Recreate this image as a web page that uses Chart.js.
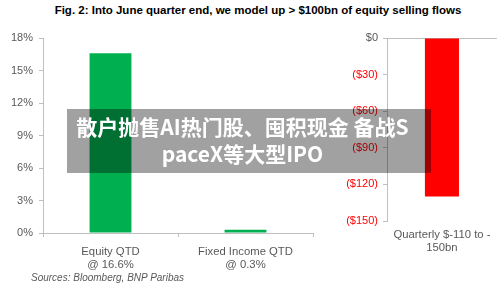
<!DOCTYPE html>
<html>
<head>
<meta charset="utf-8">
<script src="https://cdn.jsdelivr.net/npm/chart.js@4"></script>
<style>
  body { margin: 0; background: #fff; width: 500px; height: 283px; overflow: hidden; position: relative; font-family: "Liberation Sans", Arial, sans-serif; }
  canvas { position: absolute; top: 0; }
  #title { position: absolute; top: 4px; left: 0; width: 516px; text-align: center; font-weight: bold; font-size: 11.5px; color: #000; }
  #sources { position: absolute; top: 272px; left: 31px; font-style: italic; font-size: 10px; color: #595959; }
  #banner { position: absolute; left: 67px; top: 109px; width: 364px; height: 64px; background: rgba(0,0,0,0.37);
    color: #fff; font-family: "Noto Sans CJK SC", sans-serif; font-weight: bold; font-size: 21px; line-height: 27px;
    text-align: center; box-sizing: border-box; padding-top: 4px; padding-right: 13px; white-space: nowrap; }
</style>
</head>
<body>
<div id="title">Fig. 2: Into June quarter end, we model up &gt; $100bn of equity selling flows</div>
<canvas id="leftChart" width="320" height="283" style="left:0"></canvas>
<canvas id="rightChart" width="180" height="283" style="left:320px"></canvas>
<div id="sources">Sources: Bloomberg, BNP Paribas</div>
<div id="banner">散户抛售AI热门股、囤积现金 备战S<br>paceX等大型IPO</div>
<script>
// chart values
const leftCategories = [['Equity QTD', '@ 16.6%'], ['Fixed Income QTD', '@ 0.3%']];
const leftValues = [16.6, 0.3];
const leftTickMin = 0;
const leftTickMax = 18;
const leftTickStep = 3;

const rightCategories = [['Quarterly $-110 to -', '150bn']];
const rightValues = [-130];
const rightTickMin = -150;
const rightTickMax = 0;
const rightTickStep = 30;

const _GREEN = '#00b050';
const _RED = '#ff0000';
const _GREY = '#595959';
const _AXIS = '#bfbfbf';

Chart.defaults.font.family = '"Liberation Sans", Arial, sans-serif';
Chart.defaults.font.size = 11;
Chart.defaults.color = _GREY;

let leftCtx = document.getElementById('leftChart').getContext('2d');
let leftChart = new Chart(leftCtx, {
    type: 'bar',
    data: {
        labels: leftCategories,
        datasets: [{
            data: leftValues,
            backgroundColor: _GREEN,
            barPercentage: 0.31,
            categoryPercentage: 1
        }]
    },
    options: {
        responsive: false,
        animation: false,
        devicePixelRatio: 1,
        layout: { padding: { top: 38, right: 7, bottom: 0, left: 0 } },
        plugins: { legend: { display: false }, tooltip: { enabled: false } },
        scales: {
            x: {
                afterFit: function (scale) { scale.height = 50; },
                border: { color: _AXIS },
                grid: { drawOnChartArea: false, color: _AXIS, tickLength: 4 },
                ticks: { padding: 8, color: _GREY, maxRotation: 0, font: { size: 11.3, lineHeight: 1.15 } }
            },
            y: {
                min: leftTickMin,
                max: leftTickMax,
                afterFit: function (scale) { scale.width = 43; },
                border: { color: _AXIS },
                grid: { drawOnChartArea: false, color: _AXIS, tickLength: 4 },
                ticks: {
                    stepSize: leftTickStep,
                    padding: 6,
                    color: _GREY,
                    callback: function (v) { return v + '%'; }
                }
            }
        }
    }
});

let rightCtx = document.getElementById('rightChart').getContext('2d');
let rightChart = new Chart(rightCtx, {
    type: 'bar',
    data: {
        labels: rightCategories,
        datasets: [{
            data: rightValues,
            backgroundColor: _RED,
            barPercentage: 0.31,
            categoryPercentage: 1
        }]
    },
    options: {
        responsive: false,
        animation: false,
        devicePixelRatio: 1,
        layout: { padding: { top: 38, right: 3, bottom: 0, left: 0 } },
        plugins: { legend: { display: false }, tooltip: { enabled: false } },
        scales: {
            x: {
                afterFit: function (scale) { scale.height = 62; },
                border: { display: false },
                grid: { display: false, drawTicks: false },
                ticks: { padding: 8, color: _GREY, maxRotation: 0, font: { size: 11.3, lineHeight: 1.1 } }
            },
            y: {
                min: rightTickMin,
                max: rightTickMax,
                afterFit: function (scale) { scale.width = 67; },
                border: { color: _AXIS },
                grid: {
                    drawOnChartArea: true,
                    color: function (c) { return c.tick && c.tick.value === 0 ? _AXIS : 'rgba(0,0,0,0)'; },
                    tickColor: _AXIS,
                    tickLength: 4
                },
                ticks: {
                    stepSize: rightTickStep,
                    padding: 5,
                    color: function (c) { return c.tick.value === 0 ? _GREY : _RED; },
                    callback: function (v) { return v === 0 ? '$0' : '($' + Math.abs(v) + ')'; }
                }
            }
        }
    }
});
</script>
</body>
</html>
